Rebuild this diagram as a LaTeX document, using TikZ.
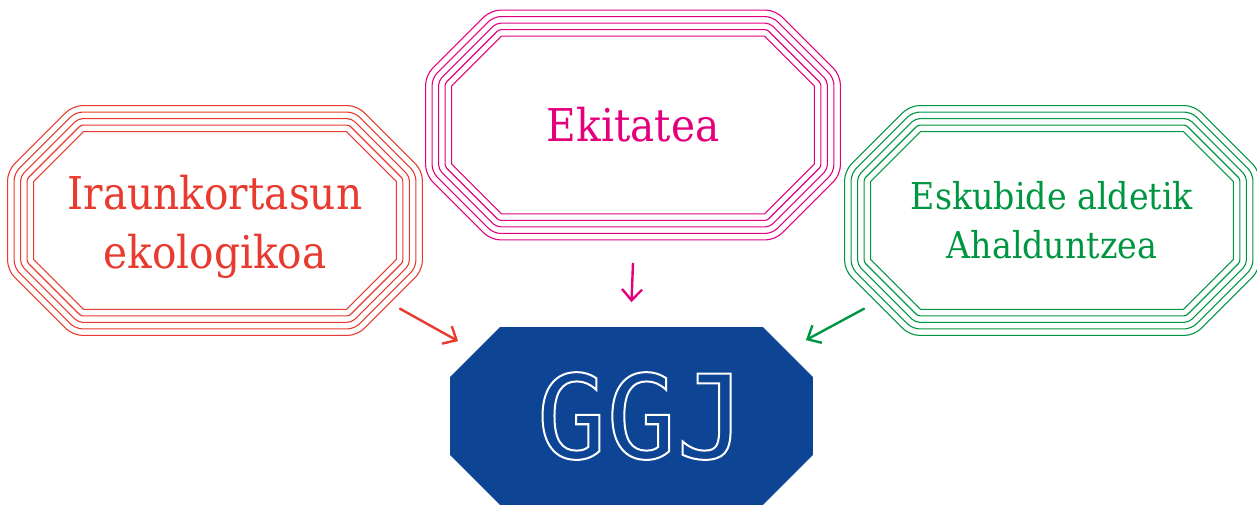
\documentclass[tikz,border=0pt]{standalone}
\usepackage{fontspec}
\setmainfont{DejaVu Serif}[FakeStretch=0.9]
\newfontfamily\ggjfont{DejaVu Sans Mono}
\usepackage{tikz}
\usetikzlibrary{calc}
\usetikzlibrary{arrows.meta}
\usetikzlibrary{backgrounds}

\definecolor{ired}{RGB}{232,58,46}
\definecolor{imag}{RGB}{228,0,125}
\definecolor{igreen}{RGB}{0,150,65}
\definecolor{iblue}{RGB}{13,69,148}

% octagon round node #1 grown by #2, chamfer #3
\newcommand{\octpath}[3]{($(#1.north west)+(-#2+#3,-#2)$) -- ($(#1.north east)+(#2-#3,-#2)$)
  -- ($(#1.north east)+(#2,-#2+#3)$) -- ($(#1.south east)+(#2,#2-#3)$)
  -- ($(#1.south east)+(#2-#3,#2)$) -- ($(#1.south west)+(-#2+#3,#2)$)
  -- ($(#1.south west)+(-#2,#2-#3)$) -- ($(#1.north west)+(-#2,-#2+#3)$) -- cycle}
\newcommand{\octlines}[2]{%
  \foreach \d [evaluate=\d as \c using 50+0.586*\d] in {0,6.5,13,19.5,26}
    \draw[#2, line width=0.55pt, rounded corners={\d*0.18pt}] \octpath{#1}{\d}{\c};}

\tikzset{
  box/.style={minimum width=181pt, minimum height=88.5pt, inner sep=0pt, align=center},
  arr/.style={-{Straight Barb[length=5.5pt,width=10pt]}, line width=1.2pt}
}

\begin{document}
\begin{tikzpicture}[x=0.5pt,y=-0.5pt]
  \useasboundingbox (0,0) rectangle (1257,504);

  \node[box, text=ired, font=\fontsize{22.6}{29.5}\selectfont] (iraun) at (215,220.5) {\\[-6pt]Iraunkortasun\\ekologikoa};
  \node[box, text=imag, font=\fontsize{22.6}{26}\selectfont] (ekit) at (633,125) {Ekitatea};
  \node[box, text=igreen, font=\fontsize{18.5}{24.5}\selectfont] (eskub) at (1052,220.5) {Eskubide aldetik\\Ahalduntzea};
  \node[box, text=white] (ggj) at (631.5,416)
    {\hspace*{10pt}\ggjfont\fontsize{58}{58}\selectfont\special{pdf:literal direct 1 Tr 1 w}GGJ\special{pdf:literal direct 0 Tr}};

  \octlines{iraun}{ired}
  \octlines{ekit}{imag}
  \octlines{eskub}{igreen}
  \begin{pgfonlayer}{background}
    \fill[iblue] \octpath{ggj}{0}{50};
  \end{pgfonlayer}

  \draw[arr, ired] ([shift={(3,-1)}]iraun.south east) -- ([shift={(8,14)}]ggj.north west);
  \draw[arr, imag] ([shift={(0,49)}]ekit.south) -- ([shift={(0,-25)}]ggj.north);
  \draw[arr, igreen] ([shift={(-6,-1)}]eskub.south west) -- ([shift={(-7,13)}]ggj.north east);
\end{tikzpicture}
\end{document}
